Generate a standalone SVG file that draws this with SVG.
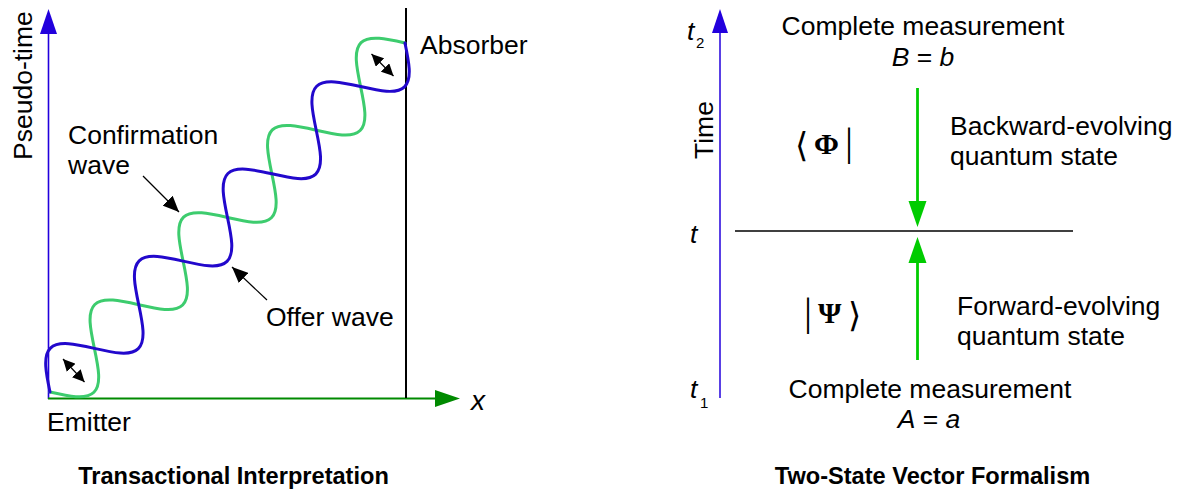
<svg xmlns="http://www.w3.org/2000/svg" width="1179" height="491" viewBox="0 0 1179 491">
<style>
.lbl{font-family:"Liberation Sans",Arial,sans-serif;font-size:26.5px;fill:#000}
.it{font-style:italic}
.ttl{font-family:"Liberation Sans",Arial,sans-serif;font-size:23.6px;font-weight:bold;fill:#000;text-anchor:middle}
.sub{font-family:"Liberation Sans",Arial,sans-serif;font-size:15px;fill:#000}
.mid{text-anchor:middle}
.math{font-family:"Liberation Serif","Times New Roman",serif;fill:#000}
.delim{font-family:"DejaVu Serif","Liberation Serif",serif;fill:#000}
.bar{font-family:"Liberation Serif","Times New Roman",serif;fill:#000;font-size:40px}
.wave{fill:none;stroke-width:3;stroke-linecap:round;stroke-linejoin:round}
.blue{stroke:#2208cc}
.green{stroke:#3dcc6e}
.ptr{stroke:#000;stroke-width:1.2;fill:none}
.garrow{stroke:#00cc00;stroke-width:2.8;fill:none}
</style>
<defs>
<marker id="ah" viewBox="0 0 16 14" refX="16" refY="7" markerWidth="16" markerHeight="14" markerUnits="userSpaceOnUse" orient="auto-start-reverse">
<path d="M0,0 L16,7 L0,14 Z" fill="#000"/>
</marker>
<marker id="ahs" viewBox="0 0 12 12" refX="12" refY="6" markerWidth="12" markerHeight="12" markerUnits="userSpaceOnUse" orient="auto-start-reverse">
<path d="M0,0 L12,6 L0,12 Z" fill="#000"/>
</marker>
</defs>

<g id="left-panel">
<g id="axes-left">
<line x1="48.5" y1="399" x2="48.5" y2="30" stroke="#2200dd" stroke-width="1.6"/>
<polygon points="48.5,9 40,34 57,34" fill="#2200dd"/>
<line x1="48" y1="398.5" x2="438" y2="398.5" stroke="#008a00" stroke-width="2"/>
<polygon points="460,398.5 435,390 435,407" fill="#008a00"/>
<line x1="406" y1="8" x2="406" y2="398" stroke="#000" stroke-width="2"/>
</g>
<g id="waves" transform="translate(50,392) rotate(-44.52)">
<path class="wave green" d="M0,0 c10.15,15.88 19.86,31 31.11,31 s20.97,-15.12 31.12,-31 s19.86,-31 31.11,-31 s20.97,15.12 31.12,31 s19.86,31 31.11,31 s20.97,-15.12 31.12,-31 s19.86,-31 31.11,-31 s20.97,15.12 31.12,31 s19.86,31 31.11,31 s20.97,-15.12 31.12,-31 s19.86,-31 31.11,-31 s20.97,15.12 31.12,31 s19.86,31 31.11,31 s20.97,-15.12 31.12,-31 s19.86,-31 31.11,-31 s20.97,15.12 31.12,31"/>
<path class="wave blue" d="M0,0 c10.15,-15.88 19.86,-31 31.11,-31 s20.97,15.12 31.12,31 s19.86,31 31.11,31 s20.97,-15.12 31.12,-31 s19.86,-31 31.11,-31 s20.97,15.12 31.12,31 s19.86,31 31.11,31 s20.97,-15.12 31.12,-31 s19.86,-31 31.11,-31 s20.97,15.12 31.12,31 s19.86,31 31.11,31 s20.97,-15.12 31.12,-31 s19.86,-31 31.11,-31 s20.97,15.12 31.12,31 s19.86,31 31.11,31 s20.97,-15.12 31.12,-31"/>
</g>
<g id="connectors-left">
<line class="ptr" x1="143" y1="176" x2="179" y2="212" marker-end="url(#ah)"/>
<line class="ptr" x1="267" y1="300" x2="232" y2="267" marker-end="url(#ah)"/>
<line class="ptr" x1="63" y1="359" x2="84.5" y2="382" marker-start="url(#ahs)" marker-end="url(#ahs)"/>
<line class="ptr" x1="371.5" y1="54" x2="393.5" y2="76" marker-start="url(#ahs)" marker-end="url(#ahs)"/>
</g>
<g id="labels-left">
<text class="lbl" transform="translate(32,160) rotate(-90)">Pseudo-time</text>
<text class="lbl" x="68" y="144">Confirmation</text>
<text class="lbl" x="68" y="174">wave</text>
<text class="lbl" x="266" y="326">Offer wave</text>
<text class="lbl" x="420" y="54">Absorber</text>
<text class="lbl" x="47" y="431">Emitter</text>
<text class="lbl it" x="471" y="410" style="font-size:28px">x</text>
<text class="ttl" x="233.5" y="484">Transactional Interpretation</text>
</g>
</g>

<g id="right-panel">
<g id="axes-right">
<line x1="720" y1="398" x2="720" y2="30" stroke="#2200dd" stroke-width="1.5"/>
<polygon points="720,9 712,33 728,33" fill="#2200dd"/>
<line x1="735" y1="231" x2="1073" y2="231" stroke="#000" stroke-width="1.5"/>
</g>
<g id="connectors-right">
<line class="garrow" x1="917.5" y1="88" x2="917.5" y2="203"/>
<polygon points="917.5,227 908.5,201 926.5,201" fill="#00cc00"/>
<line class="garrow" x1="917.5" y1="360" x2="917.5" y2="261"/>
<polygon points="917.5,237 908.5,263 926.5,263" fill="#00cc00"/>
</g>
<g id="labels-right">
<text class="lbl it" x="687" y="40">t</text>
<text class="sub" x="696" y="48">2</text>
<text class="lbl it" x="690" y="243">t</text>
<text class="lbl it" x="690" y="398">t</text>
<text class="sub" x="700" y="408">1</text>
<text class="lbl" transform="translate(713,159) rotate(-90)">Time</text>
<text class="lbl mid" x="923" y="35">Complete measurement</text>
<text class="lbl mid" x="923" y="66"><tspan class="it">B</tspan> = <tspan class="it">b</tspan></text>
<text class="lbl" x="950" y="135">Backward-evolving</text>
<text class="lbl" x="950" y="165">quantum state</text>
<text class="lbl" x="957" y="315">Forward-evolving</text>
<text class="lbl" x="957" y="345">quantum state</text>
<text class="lbl mid" x="930" y="398">Complete measurement</text>
<text class="lbl mid" x="929" y="428"><tspan class="it">A</tspan> = <tspan class="it">a</tspan></text>
<text class="ttl" x="932.5" y="484">Two-State Vector Formalism</text>
</g>
<g id="bra-phi">
<text class="delim" x="795" y="157" style="font-size:34px">⟨</text>
<text class="math" x="814" y="154" style="font-size:30px;font-weight:bold">Φ</text>
<text class="bar" x="845" y="155">|</text>
</g>
<g id="ket-psi">
<text class="bar" x="804" y="325">|</text>
<text class="math" x="818" y="323" style="font-size:30px;font-weight:bold">Ψ</text>
<text class="delim" x="848" y="327" style="font-size:34px">⟩</text>
</g>
</g>
</svg>
